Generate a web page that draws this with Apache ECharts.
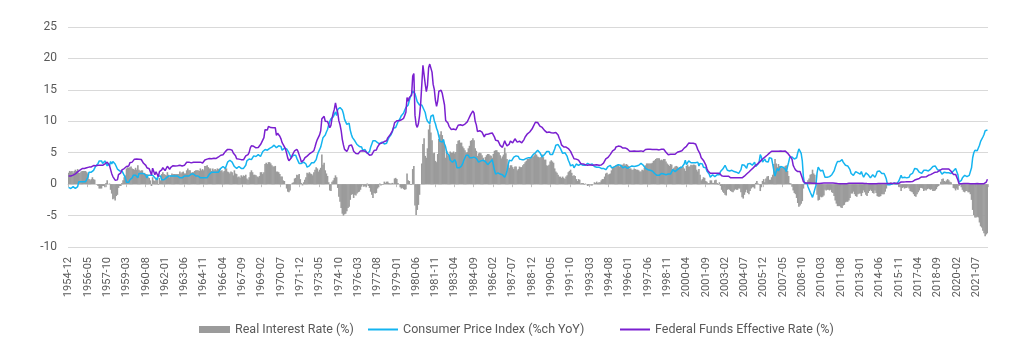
<!DOCTYPE html>
<html>
<head>
<meta charset="utf-8">
<script src="https://cdn.jsdelivr.net/npm/echarts@6/dist/echarts.min.js"></script>
<style>
    html, body { margin: 0; padding: 0; background: #fff; }
    #chart { width: 1024px; height: 353px; }
</style>
</head>
<body>
<div id="chart"></div>
<script>
    // monthly data, 1954-12 .. 2022-05
    let startYear = 1954
    let startMonth = 12

    let fedFunds = [
        1.28,
        1.39, 1.29, 1.35, 1.43, 1.43, 1.64, 1.68, 1.96, 2.18, 2.24, 2.35, 2.48,
        2.45, 2.50, 2.50, 2.62, 2.75, 2.71, 2.75, 2.73, 2.95, 2.96, 2.88, 2.94,
        2.84, 3.00, 2.96, 3.00, 3.00, 3.00, 2.99, 3.24, 3.47, 3.50, 3.28, 2.98,
        2.72, 1.67, 1.20, 1.26, 0.63, 0.93, 0.68, 1.53, 1.76, 1.80, 2.27, 2.42,
        2.48, 2.43, 2.80, 2.96, 2.90, 3.39, 3.47, 3.50, 3.76, 3.98, 4.00, 3.99,
        3.99, 3.97, 3.84, 3.92, 3.85, 3.32, 3.23, 2.98, 2.60, 2.47, 2.44, 1.98,
        1.45, 2.54, 2.02, 1.49, 1.98, 1.73, 1.17, 2.00, 1.88, 2.26, 2.62, 2.33,
        2.15, 2.37, 2.85, 2.78, 2.36, 2.68, 2.71, 2.93, 2.90, 2.90, 2.94, 2.93,
        2.92, 3.00, 2.98, 2.90, 3.00, 2.99, 3.02, 3.49, 3.48, 3.50, 3.48, 3.38,
        3.48, 3.48, 3.43, 3.47, 3.50, 3.50, 3.42, 3.50, 3.45, 3.36, 3.52, 3.85,
        3.90, 3.98, 4.04, 4.09, 4.10, 4.04, 4.09, 4.12, 4.01, 4.08, 4.10, 4.32,
        4.42, 4.60, 4.65, 4.67, 4.90, 5.17, 5.30, 5.53, 5.40, 5.53, 5.76, 5.40,
        4.94, 5.00, 4.53, 4.05, 3.94, 3.98, 3.79, 3.90, 3.99, 3.88, 4.13, 4.51,
        4.60, 4.71, 5.05, 5.76, 6.11, 6.07, 6.02, 6.03, 5.78, 5.91, 5.82, 6.02,
        6.30, 6.64, 6.79, 7.41, 8.67, 8.90, 8.61, 9.19, 9.15, 9.00, 8.85, 8.97,
        8.98, 8.98, 7.76, 8.10, 7.95, 7.61, 7.21, 6.61, 6.29, 6.20, 5.60, 4.90,
        4.14, 3.72, 3.71, 4.16, 4.63, 4.91, 5.31, 5.56, 5.55, 5.20, 4.91, 4.14,
        3.50, 3.29, 3.83, 4.17, 4.27, 4.46, 4.55, 4.80, 4.87, 5.04, 5.06, 5.33,
        5.94, 6.58, 7.09, 7.12, 7.84, 8.49, 10.40, 10.50, 10.78, 10.01, 10.03, 9.95,
        9.65, 8.97, 9.35, 10.51, 11.31, 11.93, 12.92, 12.01, 11.34, 10.06, 9.45, 8.53,
        7.13, 6.24, 5.54, 5.49, 5.22, 5.55, 6.10, 6.14, 6.24, 5.82, 5.22, 5.20,
        4.87, 4.77, 4.84, 4.82, 5.29, 5.48, 5.31, 5.29, 5.25, 5.02, 4.95, 4.65,
        4.61, 4.68, 4.69, 4.73, 5.35, 5.39, 5.42, 5.90, 6.14, 6.47, 6.51, 6.56,
        6.70, 6.78, 6.79, 6.89, 7.36, 7.60, 7.81, 8.04, 8.45, 8.96, 9.76, 10.03,
        10.07, 10.06, 10.09, 10.01, 10.24, 10.29, 10.47, 10.94, 11.43, 13.77, 13.18, 13.78,
        13.82, 14.13, 17.19, 17.61, 10.98, 9.47, 9.03, 9.61, 10.87, 12.81, 15.85, 18.90,
        19.08, 15.93, 14.70, 15.72, 18.52, 19.10, 19.04, 17.82, 15.87, 15.08, 13.31, 12.37,
        13.22, 14.78, 14.68, 14.94, 14.45, 14.15, 12.59, 10.12, 10.31, 9.71, 9.20, 8.95,
        8.68, 8.51, 8.77, 8.80, 8.63, 8.98, 9.37, 9.56, 9.45, 9.48, 9.34, 9.47,
        9.56, 9.59, 9.91, 10.29, 10.32, 11.06, 11.23, 11.64, 11.30, 9.99, 9.43, 8.38,
        8.35, 8.50, 8.58, 8.27, 7.97, 7.53, 7.88, 7.90, 7.92, 7.99, 8.05, 8.27,
        8.14, 7.86, 7.48, 6.99, 6.85, 6.92, 6.56, 6.17, 5.89, 5.85, 6.04, 6.91,
        6.43, 6.10, 6.13, 6.37, 6.85, 6.73, 6.58, 6.73, 7.22, 7.29, 6.69, 6.77,
        6.83, 6.58, 6.58, 6.87, 7.09, 7.51, 7.75, 8.01, 8.19, 8.30, 8.35, 8.76,
        9.12, 9.36, 9.85, 9.84, 9.81, 9.53, 9.24, 8.99, 9.02, 8.84, 8.55, 8.45,
        8.23, 8.24, 8.28, 8.26, 8.18, 8.29, 8.15, 8.13, 8.20, 8.11, 7.81, 7.31,
        6.91, 6.25, 6.12, 5.91, 5.78, 5.90, 5.82, 5.66, 5.45, 5.21, 4.81, 4.43,
        4.03, 4.06, 3.98, 3.73, 3.82, 3.76, 3.25, 3.30, 3.22, 3.10, 3.09, 2.92,
        3.02, 3.03, 3.07, 2.96, 3.00, 3.04, 3.06, 3.03, 3.09, 2.99, 3.02, 2.96,
        3.05, 3.25, 3.34, 3.56, 4.01, 4.25, 4.26, 4.47, 4.73, 4.76, 5.29, 5.45,
        5.53, 5.92, 5.98, 6.05, 6.01, 6.00, 5.85, 5.74, 5.80, 5.76, 5.80, 5.60,
        5.56, 5.22, 5.31, 5.22, 5.24, 5.27, 5.40, 5.22, 5.30, 5.24, 5.31, 5.29,
        5.25, 5.19, 5.39, 5.51, 5.50, 5.56, 5.52, 5.54, 5.54, 5.50, 5.52, 5.50,
        5.56, 5.51, 5.49, 5.45, 5.49, 5.56, 5.54, 5.55, 5.51, 5.07, 4.83, 4.68,
        4.63, 4.76, 4.81, 4.74, 4.74, 4.76, 4.99, 5.07, 5.22, 5.20, 5.42, 5.30,
        5.45, 5.73, 5.85, 6.02, 6.27, 6.53, 6.54, 6.50, 6.52, 6.51, 6.51, 6.40,
        5.98, 5.49, 5.31, 4.80, 4.21, 3.97, 3.77, 3.65, 3.07, 2.49, 2.09, 1.82,
        1.73, 1.74, 1.73, 1.75, 1.75, 1.75, 1.73, 1.74, 1.75, 1.75, 1.34, 1.24,
        1.24, 1.26, 1.25, 1.26, 1.26, 1.22, 1.01, 1.03, 1.01, 1.01, 1.00, 0.98,
        1.00, 1.01, 1.00, 1.00, 1.00, 1.03, 1.26, 1.43, 1.61, 1.76, 1.93, 2.16,
        2.28, 2.50, 2.63, 2.79, 3.00, 3.04, 3.26, 3.50, 3.62, 3.78, 4.00, 4.16,
        4.29, 4.49, 4.59, 4.79, 4.94, 4.99, 5.24, 5.25, 5.25, 5.25, 5.25, 5.24,
        5.25, 5.26, 5.26, 5.25, 5.25, 5.25, 5.26, 5.02, 4.94, 4.76, 4.49, 4.24,
        3.94, 2.98, 2.61, 2.28, 1.98, 2.00, 2.01, 2.00, 1.81, 0.97, 0.39, 0.16,
        0.15, 0.22, 0.18, 0.15, 0.18, 0.21, 0.16, 0.16, 0.15, 0.12, 0.12, 0.12,
        0.11, 0.13, 0.16, 0.20, 0.20, 0.18, 0.18, 0.19, 0.19, 0.19, 0.19, 0.18,
        0.17, 0.16, 0.14, 0.10, 0.09, 0.09, 0.07, 0.10, 0.08, 0.07, 0.08, 0.07,
        0.08, 0.10, 0.13, 0.14, 0.16, 0.16, 0.16, 0.13, 0.14, 0.16, 0.16, 0.16,
        0.14, 0.15, 0.14, 0.15, 0.11, 0.09, 0.09, 0.08, 0.08, 0.09, 0.08, 0.09,
        0.07, 0.07, 0.08, 0.09, 0.09, 0.10, 0.09, 0.09, 0.09, 0.09, 0.09, 0.12,
        0.11, 0.11, 0.11, 0.12, 0.12, 0.13, 0.13, 0.14, 0.14, 0.12, 0.12, 0.24,
        0.34, 0.38, 0.36, 0.37, 0.37, 0.38, 0.39, 0.40, 0.40, 0.40, 0.41, 0.54,
        0.65, 0.66, 0.79, 0.90, 0.91, 1.04, 1.15, 1.16, 1.15, 1.15, 1.16, 1.30,
        1.41, 1.42, 1.51, 1.69, 1.70, 1.82, 1.91, 1.91, 1.95, 2.19, 2.20, 2.27,
        2.40, 2.40, 2.41, 2.42, 2.39, 2.38, 2.40, 2.13, 2.04, 1.83, 1.55, 1.55,
        1.55, 1.58, 0.65, 0.05, 0.05, 0.08, 0.09, 0.10, 0.09, 0.09, 0.09, 0.09,
        0.09, 0.08, 0.07, 0.07, 0.06, 0.08, 0.10, 0.09, 0.08, 0.08, 0.08, 0.08,
        0.08, 0.08, 0.20, 0.33, 0.77
    ]

    let cpi = [
        -0.5,
        -0.7, -0.7, -0.7, -0.4, -0.7, -0.7, -0.4, -0.4, 0.4, 0.4, 0.4, 0.4,
        0.4, 0.4, 0.4, 0.7, 1.1, 1.9, 2.2, 1.9, 1.9, 2.2, 2.2, 2.9,
        2.9, 3.3, 3.7, 3.7, 3.7, 3.3, 3.3, 3.7, 3.3, 2.9, 3.3, 2.9,
        3.6, 3.2, 3.6, 3.6, 3.2, 2.8, 2.4, 2.1, 2.1, 2.1, 2.1, 1.8,
        1.4, 1.0, 0.3, 0.3, 0.3, 0.7, 0.7, 1.0, 1.4, 1.7, 1.4, 1.7,
        1.0, 1.7, 1.7, 1.7, 1.7, 1.7, 1.4, 1.4, 1.0, 1.4, 1.4, 1.4,
        1.7, 1.4, 1.4, 1.0, 1.0, 0.7, 1.3, 1.0, 1.3, 0.7, 0.7, 0.7,
        0.7, 1.0, 1.0, 1.3, 1.3, 1.3, 1.0, 1.3, 1.3, 1.3, 1.3, 1.3,
        1.3, 1.0, 1.3, 1.0, 1.0, 1.3, 1.3, 1.3, 1.0, 1.3, 1.3, 1.6,
        1.6, 1.6, 1.3, 1.3, 1.3, 1.3, 1.3, 1.0, 1.3, 1.0, 1.3, 1.0,
        1.0, 1.0, 1.3, 1.6, 1.6, 1.9, 1.6, 1.9, 1.6, 1.9, 1.6, 1.9,
        1.9, 2.5, 2.5, 2.8, 2.8, 2.5, 2.8, 3.5, 3.5, 3.8, 3.8, 3.5,
        3.5, 2.8, 2.8, 2.5, 2.8, 2.8, 2.8, 2.5, 2.8, 2.5, 2.8, 3.0,
        3.7, 4.0, 4.0, 3.9, 3.9, 4.2, 4.5, 4.5, 4.4, 4.7, 4.7, 4.7,
        4.4, 4.7, 5.2, 5.5, 5.5, 5.5, 5.4, 5.7, 5.7, 5.7, 5.9, 6.2,
        6.2, 6.1, 5.8, 6.1, 6.1, 6.0, 6.0, 5.4, 5.7, 5.7, 5.6, 5.6,
        5.3, 5.0, 4.7, 4.2, 4.4, 4.6, 4.4, 4.6, 4.1, 3.8, 3.3, 3.3,
        3.3, 3.5, 3.5, 3.5, 3.2, 2.7, 2.9, 2.9, 3.2, 3.4, 3.7, 3.4,
        3.6, 3.9, 4.6, 5.1, 5.5, 5.9, 5.7, 7.4, 7.4, 7.8, 8.3, 8.7,
        9.4, 10.0, 10.4, 10.1, 10.7, 10.9, 11.5, 10.9, 11.9, 12.1, 12.2, 12.3,
        11.8, 11.2, 10.3, 10.2, 9.5, 9.3, 9.7, 8.6, 7.9, 7.4, 7.4, 6.9,
        6.7, 6.3, 6.1, 6.0, 6.2, 5.9, 5.4, 5.7, 5.5, 5.5, 4.9, 4.9,
        5.2, 5.9, 6.4, 6.9, 6.7, 6.9, 6.8, 6.6, 6.6, 6.4, 6.7, 6.7,
        6.8, 6.4, 6.6, 6.5, 7.0, 7.4, 7.7, 7.9, 8.3, 8.9, 8.9, 9.0,
        9.3, 9.9, 10.1, 10.5, 10.9, 10.9, 11.3, 11.8, 12.2, 12.1, 12.6, 13.3,
        13.9, 14.2, 14.8, 14.7, 14.4, 14.4, 13.1, 12.9, 12.6, 12.8, 12.6, 12.5,
        11.8, 11.4, 10.5, 10.0, 9.8, 9.6, 10.8, 10.8, 11.0, 10.1, 9.6, 8.9,
        8.4, 7.6, 6.8, 6.5, 6.7, 7.1, 6.4, 5.9, 5.0, 5.1, 4.6, 3.8,
        3.7, 3.5, 3.6, 3.9, 3.5, 2.6, 2.5, 2.6, 2.9, 2.9, 3.3, 3.8,
        4.2, 4.6, 4.8, 4.6, 4.2, 4.2, 4.2, 4.3, 4.3, 4.3, 4.1, 3.9,
        3.5, 3.5, 3.7, 3.7, 3.8, 3.8, 3.6, 3.3, 3.1, 3.2, 3.5, 3.8,
        3.9, 3.1, 2.2, 1.6, 1.5, 1.8, 1.6, 1.6, 1.8, 1.5, 1.3, 1.1,
        1.5, 2.1, 3.0, 3.8, 3.9, 3.7, 3.9, 4.3, 4.4, 4.5, 4.5, 4.4,
        4.0, 3.9, 3.9, 3.9, 3.9, 4.0, 4.1, 4.0, 4.2, 4.2, 4.2, 4.4,
        4.7, 4.8, 5.0, 5.1, 5.4, 5.2, 5.0, 4.7, 4.3, 4.5, 4.7, 4.6,
        5.2, 5.3, 5.2, 4.7, 4.4, 4.7, 4.8, 5.6, 6.2, 6.3, 6.3, 6.1,
        5.7, 5.3, 4.9, 4.9, 5.0, 4.7, 4.4, 3.8, 3.4, 2.9, 3.0, 3.1,
        2.6, 2.8, 3.2, 3.2, 3.0, 3.1, 3.2, 3.1, 3.0, 3.2, 3.0, 2.9,
        3.3, 3.2, 3.1, 3.2, 3.2, 3.0, 2.8, 2.8, 2.7, 2.8, 2.7, 2.7,
        2.5, 2.5, 2.5, 2.4, 2.3, 2.5, 2.8, 2.9, 3.0, 2.6, 2.7, 2.7,
        2.8, 2.9, 2.9, 3.1, 3.2, 3.0, 2.8, 2.6, 2.5, 2.8, 2.6, 2.5,
        2.7, 2.7, 2.8, 2.9, 2.9, 2.8, 3.0, 2.9, 3.0, 3.0, 3.3, 3.3,
        3.0, 3.0, 2.8, 2.5, 2.2, 2.3, 2.2, 2.2, 2.2, 2.1, 1.8, 1.7,
        1.6, 1.4, 1.4, 1.4, 1.7, 1.7, 1.7, 1.6, 1.5, 1.5, 1.5, 1.6,
        1.7, 1.6, 1.7, 2.3, 2.1, 2.0, 2.1, 2.3, 2.6, 2.6, 2.6, 2.7,
        2.7, 3.2, 3.8, 3.1, 3.2, 3.7, 3.7, 3.4, 3.5, 3.4, 3.4, 3.4,
        3.7, 3.5, 2.9, 3.3, 3.6, 3.2, 2.7, 2.7, 2.6, 2.1, 1.9, 1.6,
        1.1, 1.1, 1.5, 1.6, 1.2, 1.1, 1.5, 1.8, 1.5, 2.0, 2.2, 2.4,
        2.6, 3.0, 3.0, 2.2, 2.1, 2.1, 2.1, 2.2, 2.3, 2.0, 1.8, 1.9,
        1.9, 1.7, 1.7, 2.3, 3.1, 3.3, 3.0, 2.7, 2.5, 3.2, 3.5, 3.3,
        3.0, 3.0, 3.1, 3.5, 2.8, 2.5, 3.2, 3.6, 4.7, 4.3, 3.5, 3.4,
        4.0, 3.6, 3.4, 3.5, 4.2, 4.3, 4.1, 3.8, 2.1, 1.3, 2.0, 2.5,
        2.1, 2.4, 2.8, 2.6, 2.7, 2.7, 2.4, 2.0, 2.8, 3.5, 4.3, 4.1,
        4.3, 4.0, 4.0, 3.9, 4.2, 5.0, 5.6, 5.4, 4.9, 3.7, 1.1, 0.1,
        0.0, 0.2, -0.4, -0.7, -1.3, -1.4, -2.1, -1.5, -1.3, -0.2, 1.8, 2.7,
        2.6, 2.1, 2.3, 2.2, 2.0, 1.1, 1.2, 1.1, 1.1, 1.2, 1.1, 1.5,
        1.6, 2.1, 2.7, 3.2, 3.6, 3.6, 3.6, 3.8, 3.9, 3.5, 3.4, 3.0,
        2.9, 2.9, 2.7, 2.3, 1.7, 1.7, 1.4, 1.7, 2.0, 2.2, 1.8, 1.7,
        1.6, 2.0, 1.5, 1.1, 1.4, 1.8, 2.0, 1.5, 1.2, 1.0, 1.2, 1.5,
        1.6, 1.1, 1.5, 2.0, 2.1, 2.1, 2.0, 1.7, 1.7, 1.7, 1.3, 0.8,
        -0.1, 0.0, -0.1, -0.2, 0.0, 0.1, 0.2, 0.2, 0.0, 0.2, 0.5, 0.7,
        1.4, 1.0, 0.9, 1.1, 1.0, 1.0, 0.8, 1.1, 1.5, 1.6, 1.7, 2.1,
        2.5, 2.7, 2.4, 2.2, 1.9, 1.6, 1.7, 1.9, 2.2, 2.0, 2.2, 2.1,
        2.1, 2.2, 2.4, 2.5, 2.8, 2.9, 2.9, 2.7, 2.3, 2.5, 2.2, 1.9,
        1.6, 1.5, 1.9, 2.0, 1.8, 1.6, 1.8, 1.7, 1.7, 1.8, 2.1, 2.3,
        2.5, 2.3, 1.5, 0.3, 0.1, 0.6, 1.0, 1.3, 1.4, 1.2, 1.2, 1.4,
        1.4, 1.7, 2.6, 4.2, 5.0, 5.4, 5.4, 5.3, 5.4, 6.2, 6.8, 7.0,
        7.5, 7.9, 8.5, 8.3, 8.6
    ]

    let realRate = [
        1.8,
        2.1, 2.0, 2.1, 1.8, 2.1, 2.3, 2.1, 2.4, 1.8, 1.8, 2.0, 2.1,
        2.1, 2.1, 2.1, 1.9, 1.7, 0.8, 0.6, 0.8, 1.1, 0.8, 0.7, 0.0,
        -0.1, -0.3, -0.7, -0.7, -0.7, -0.3, -0.3, -0.5, 0.2, 0.6, 0.0, 0.1,
        -0.9, -1.5, -2.4, -2.3, -2.6, -1.9, -1.7, -0.6, -0.3, -0.3, 0.2, 0.6,
        1.1, 1.4, 2.5, 2.7, 2.6, 2.7, 2.8, 2.5, 2.4, 2.3, 2.6, 2.3,
        3.0, 2.3, 2.1, 2.2, 2.2, 1.6, 1.8, 1.6, 1.6, 1.1, 1.0, 0.6,
        -0.3, 1.1, 0.6, 0.5, 1.0, 1.0, -0.1, 1.0, 0.6, 1.6, 1.9, 1.6,
        1.5, 1.4, 1.9, 1.5, 1.1, 1.4, 1.7, 1.6, 1.6, 1.6, 1.6, 1.6,
        1.6, 2.0, 1.7, 1.9, 2.0, 1.7, 1.7, 2.2, 2.5, 2.2, 2.2, 1.8,
        1.9, 1.9, 2.1, 2.2, 2.2, 2.2, 2.1, 2.5, 2.2, 2.4, 2.2, 2.9,
        2.9, 3.0, 2.7, 2.5, 2.5, 2.1, 2.5, 2.2, 2.4, 2.2, 2.5, 2.4,
        2.5, 2.1, 2.2, 1.9, 2.1, 2.7, 2.5, 2.0, 1.9, 1.7, 2.0, 1.9,
        1.4, 2.2, 1.7, 1.6, 1.1, 1.2, 1.0, 1.4, 1.2, 1.4, 1.3, 1.5,
        0.9, 0.7, 1.1, 1.9, 2.2, 1.9, 1.5, 1.5, 1.4, 1.2, 1.1, 1.3,
        1.9, 1.9, 1.6, 1.9, 3.2, 3.4, 3.2, 3.5, 3.5, 3.3, 3.0, 2.8,
        2.8, 2.9, 2.0, 2.0, 1.9, 1.6, 1.2, 1.2, 0.6, 0.5, 0.0, -0.7,
        -1.2, -1.3, -1.0, 0.0, 0.2, 0.3, 0.9, 1.0, 1.5, 1.4, 1.6, 0.8,
        0.2, -0.2, 0.3, 0.7, 1.1, 1.8, 1.7, 1.9, 1.7, 1.6, 1.4, 1.9,
        2.3, 2.7, 2.5, 2.0, 2.3, 2.6, 4.7, 3.1, 3.4, 2.2, 1.7, 1.3,
        0.3, -1.0, -1.1, 0.4, 0.6, 1.0, 1.4, 1.1, -0.6, -2.0, -2.8, -3.8,
        -4.7, -5.0, -4.8, -4.7, -4.3, -3.8, -3.6, -2.5, -1.7, -1.6, -2.2, -1.7,
        -1.8, -1.5, -1.3, -1.2, -0.9, -0.4, -0.1, -0.4, -0.3, -0.5, 0.1, -0.3,
        -0.6, -1.2, -1.7, -2.2, -1.4, -1.5, -1.4, -0.7, -0.5, 0.1, -0.2, -0.1,
        -0.1, 0.4, 0.2, 0.4, 0.4, 0.2, 0.1, 0.1, 0.2, 0.1, 0.9, 1.0,
        0.8, 0.2, 0.0, -0.5, -0.7, -0.6, -0.8, -0.9, -0.8, 1.7, 0.6, 0.5,
        -0.1, -0.1, 2.4, 2.9, -3.4, -4.9, -4.1, -3.3, -1.7, 0.0, 3.3, 6.4,
        7.3, 4.5, 4.2, 5.7, 8.7, 9.5, 8.2, 7.0, 4.9, 5.0, 3.7, 3.5,
        4.8, 7.2, 7.9, 8.4, 7.8, 7.1, 6.2, 4.2, 5.3, 4.6, 4.6, 5.2,
        5.0, 5.0, 5.2, 4.9, 5.1, 6.4, 6.9, 7.0, 6.6, 6.6, 6.0, 5.7,
        5.4, 5.0, 5.1, 5.7, 6.1, 6.9, 7.0, 7.3, 7.0, 5.7, 5.3, 4.5,
        4.9, 5.0, 4.9, 4.6, 4.2, 3.7, 4.3, 4.6, 4.8, 4.8, 4.6, 4.5,
        4.2, 4.8, 5.3, 5.4, 5.4, 5.1, 5.0, 4.6, 4.1, 4.4, 4.7, 5.8,
        4.9, 4.0, 3.1, 2.6, 3.0, 3.0, 2.7, 2.4, 2.8, 2.8, 2.2, 2.4,
        2.8, 2.7, 2.7, 3.0, 3.2, 3.5, 3.7, 4.0, 4.0, 4.1, 4.2, 4.4,
        4.4, 4.6, 4.9, 4.7, 4.4, 4.3, 4.2, 4.3, 4.7, 4.3, 3.9, 3.9,
        3.0, 2.9, 3.1, 3.6, 3.8, 3.6, 3.4, 2.5, 2.0, 1.8, 1.5, 1.2,
        1.2, 1.0, 1.2, 1.0, 0.8, 1.2, 1.4, 1.9, 2.1, 2.3, 1.8, 1.3,
        1.4, 1.3, 0.8, 0.5, 0.8, 0.7, 0.1, 0.2, 0.2, -0.1, 0.1, 0.0,
        -0.3, -0.2, 0.0, -0.2, -0.2, 0.0, 0.3, 0.2, 0.4, 0.2, 0.3, 0.3,
        0.6, 0.8, 0.8, 1.2, 1.7, 1.8, 1.5, 1.6, 1.7, 2.2, 2.6, 2.8,
        2.7, 3.0, 3.1, 3.0, 2.8, 3.0, 3.1, 3.1, 3.3, 3.0, 3.2, 3.1,
        2.9, 2.5, 2.5, 2.3, 2.3, 2.5, 2.4, 2.3, 2.3, 2.2, 2.0, 2.0,
        2.3, 2.2, 2.6, 3.0, 3.3, 3.3, 3.3, 3.3, 3.3, 3.4, 3.7, 3.8,
        4.0, 4.1, 4.1, 4.1, 3.8, 3.9, 3.8, 4.0, 4.0, 3.6, 3.3, 3.1,
        2.9, 3.2, 3.1, 2.4, 2.6, 2.8, 2.9, 2.8, 2.6, 2.6, 2.8, 2.6,
        2.8, 2.5, 2.1, 2.9, 3.1, 2.8, 2.8, 3.1, 3.0, 3.1, 3.1, 3.0,
        2.3, 2.0, 2.4, 1.5, 0.6, 0.8, 1.1, 1.0, 0.5, 0.4, 0.2, 0.2,
        0.6, 0.6, 0.2, 0.2, 0.6, 0.7, 0.2, -0.1, 0.3, -0.3, -0.9, -1.2,
        -1.4, -1.7, -1.8, -0.9, -0.8, -0.9, -1.1, -1.2, -1.3, -1.0, -0.8, -0.9,
        -0.9, -0.7, -0.7, -1.3, -2.1, -2.3, -1.7, -1.3, -0.9, -1.4, -1.6, -1.1,
        -0.7, -0.5, -0.5, -0.7, 0.2, 0.5, 0.1, -0.1, -1.1, -0.5, 0.5, 0.8,
        0.3, 0.9, 1.2, 1.3, 0.7, 0.7, 1.1, 1.5, 3.2, 4.0, 3.3, 2.7,
        3.2, 2.9, 2.5, 2.7, 2.6, 2.6, 2.9, 3.0, 2.1, 1.3, 0.2, 0.1,
        -0.4, -1.0, -1.4, -1.6, -2.2, -3.0, -3.6, -3.4, -3.1, -2.7, -0.7, 0.1,
        0.2, 0.0, 0.6, 0.9, 1.5, 1.6, 2.3, 1.7, 1.5, 0.3, -1.7, -2.6,
        -2.5, -2.0, -2.1, -2.0, -1.8, -0.9, -1.0, -0.9, -0.9, -1.0, -0.9, -1.3,
        -1.4, -1.9, -2.6, -3.1, -3.5, -3.5, -3.5, -3.7, -3.8, -3.4, -3.3, -2.9,
        -2.8, -2.8, -2.6, -2.2, -1.5, -1.5, -1.2, -1.6, -1.9, -2.0, -1.6, -1.5,
        -1.5, -1.9, -1.4, -1.0, -1.3, -1.7, -1.9, -1.4, -1.1, -0.9, -1.1, -1.4,
        -1.5, -1.0, -1.4, -1.9, -2.0, -2.0, -1.9, -1.6, -1.6, -1.6, -1.2, -0.7,
        0.2, 0.1, 0.2, 0.3, 0.1, 0.0, -0.1, -0.1, 0.1, -0.1, -0.4, -0.5,
        -1.1, -0.6, -0.5, -0.7, -0.6, -0.6, -0.4, -0.7, -1.1, -1.2, -1.3, -1.6,
        -1.9, -2.0, -1.6, -1.3, -1.0, -0.6, -0.6, -0.7, -1.1, -0.9, -1.0, -0.8,
        -0.7, -0.8, -0.9, -0.8, -1.1, -1.1, -1.0, -0.8, -0.4, -0.3, 0.0, 0.4,
        0.8, 0.9, 0.5, 0.4, 0.6, 0.8, 0.6, 0.4, 0.3, 0.0, -0.6, -0.7,
        -1.0, -0.7, -0.9, -0.3, -0.1, -0.5, -0.9, -1.2, -1.3, -1.1, -1.1, -1.3,
        -1.3, -1.6, -2.5, -4.1, -4.9, -5.3, -5.3, -5.2, -5.3, -6.1, -6.7, -6.9,
        -7.4, -7.8, -8.3, -8.0, -7.8
    ]

    let yTicks = [-10, -5, 0, 5, 10, 15, 20, 25]

    // month labels, e.g. 1954-12
    let months = []
    for (let i = 0; i < fedFunds.length; i++) {
        let m = startMonth - 1 + i
        months.push((startYear + Math.floor(m / 12)) + '-' + String(m % 12 + 1).padStart(2, '0'))
    }

    let font = 'Roboto, "Liberation Sans", sans-serif'
    let textColor = '#595959'
    let legendText = { color: textColor, fontSize: 12.5, fontFamily: font }

    let mychart = echarts.init(document.getElementById('chart'))
    let option = {
        animation: false,
        grid: {
            left: 68,
            right: 36,
            top: 27,
            bottom: 106
        },
        legend: [
            {
                data: [{ name: 'Real Interest Rate (%)', icon: 'rect' }],
                left: 199,
                top: 323,
                padding: 0,
                itemWidth: 31,
                itemHeight: 7,
                textStyle: legendText
            },
            {
                data: [{ name: 'Consumer Price Index (%ch YoY)', icon: 'rect' }],
                left: 368,
                top: 323,
                padding: 0,
                itemWidth: 30,
                itemHeight: 2,
                textStyle: legendText
            },
            {
                data: [{ name: 'Federal Funds Effective Rate (%)', icon: 'rect' }],
                left: 620,
                top: 323,
                padding: 0,
                itemWidth: 30,
                itemHeight: 2,
                textStyle: legendText
            }
        ],
        xAxis: [
            {
                type: 'category',
                data: months,
                position: 'bottom',
                axisLine: { show: false, onZero: false },
                axisTick: { show: false },
                axisLabel: {
                    interval: 16,
                    rotate: 90,
                    margin: 10,
                    color: textColor,
                    fontSize: 11,
                    fontFamily: font
                }
            },
            {
                // ticks sitting on the zero line
                type: 'category',
                data: months,
                position: 'top',
                axisLine: { show: true, onZero: true, lineStyle: { color: '#d9d9d9' } },
                axisTick: { show: true, inside: true, interval: 16, length: 3, lineStyle: { color: '#bfbfbf' } },
                axisLabel: { show: false }
            }
        ],
        yAxis: {
            type: 'value',
            min: yTicks[0],
            max: yTicks[yTicks.length - 1],
            interval: 5,
            axisLine: { show: false },
            axisTick: { show: false },
            axisLabel: { color: textColor, fontSize: 12, margin: 11, fontFamily: font },
            splitLine: { lineStyle: { color: '#d9d9d9', width: 1 } }
        },
        series: [
            {
                name: 'Real Interest Rate (%)',
                type: 'bar',
                data: realRate,
                // slightly wider than a month so neighbours touch without seams
                barWidth: 1.6,
                itemStyle: { color: '#9b9b9b' }
            },
            {
                name: 'Consumer Price Index (%ch YoY)',
                type: 'line',
                data: cpi,
                symbol: 'none',
                itemStyle: { color: '#14b4f0' },
                lineStyle: { color: '#14b4f0', width: 1.5 }
            },
            {
                name: 'Federal Funds Effective Rate (%)',
                type: 'line',
                data: fedFunds,
                symbol: 'none',
                itemStyle: { color: '#7a1fd0' },
                lineStyle: { color: '#7a1fd0', width: 1.5 }
            }
        ]
    }
    mychart.setOption(option)
</script>
</body>
</html>
